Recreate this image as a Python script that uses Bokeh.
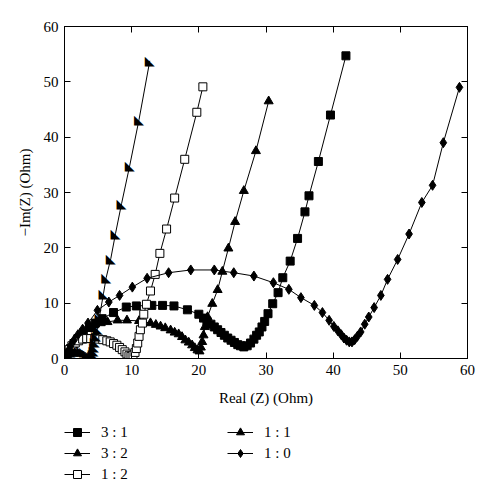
import math
from bokeh.plotting import figure
from bokeh.layouts import column
from bokeh.models import Legend, LegendItem, LinearAxis, Range1d, FixedTicker, ColumnDataSource
from bokeh.core.properties import value
from bokeh.embed import file_html
from bokeh.resources import INLINE

# ---- data ----
x_31 = [0.2, 0.5, 0.9, 1.4, 2.0, 2.8, 3.7, 4.6, 5.6, 7.3, 9.2, 10.7, 13.0, 14.6, 16.3, 18.3, 20.0,
        20.7, 21.2, 21.8, 22.3, 22.8, 23.3, 23.8, 24.3, 24.8, 25.3, 25.8, 26.2, 26.7, 27.2, 27.7,
        28.2, 28.6, 29.0, 29.4, 29.8, 30.3, 31.0, 31.8, 32.5, 33.6, 34.7, 35.8, 36.4, 37.8, 39.6, 41.9]
y_31 = [0.3, 1.0, 1.8, 2.7, 3.6, 4.6, 5.6, 6.4, 7.2, 8.3, 9.3, 9.5, 9.6, 9.6, 9.5, 8.8, 8.0,
        7.3, 6.7, 6.2, 5.7, 5.2, 4.7, 4.2, 3.7, 3.3, 2.9, 2.5, 2.3, 2.1, 2.3, 2.8,
        3.5, 4.2, 4.8, 5.7, 6.7, 8.1, 9.9, 11.9, 14.6, 17.6, 21.7, 26.5, 29.4, 35.6, 44.0, 54.7]

x_32 = [0.2, 0.5, 0.9, 1.4, 2.0, 2.7, 3.5, 4.4, 5.4, 6.4, 7.9, 9.3, 11.1, 12.8, 13.6, 14.3, 15.0,
        15.8, 16.4, 17.0, 17.5, 18.0, 18.5, 19.0, 19.4, 19.8, 20.1, 20.3, 20.5, 20.7, 20.9, 21.3,
        22.0, 22.8, 23.5, 24.4, 25.4, 26.7, 28.5, 30.4]
y_32 = [0.4, 1.2, 2.1, 3.0, 3.9, 4.7, 5.4, 6.0, 6.4, 6.6, 6.9, 6.9, 6.8, 6.4, 6.1, 5.8, 5.5,
        5.1, 4.7, 4.4, 3.9, 3.3, 2.9, 2.4, 1.9, 1.5, 1.3, 2.0, 3.0, 4.2, 5.7, 7.5,
        9.9, 12.4, 15.7, 19.9, 24.7, 30.3, 37.5, 46.5]

x_12 = [0.2, 0.4, 0.7, 1.1, 1.6, 2.1, 2.7, 3.3, 3.9, 4.5, 5.1, 5.7, 6.3, 6.8, 7.3, 7.8, 8.2, 8.6,
        9.0, 9.3, 9.6, 9.9, 10.2, 10.5, 10.7, 10.9, 11.1, 11.3, 11.6, 11.8, 12.2, 12.8, 13.5, 14.2,
        15.2, 16.4, 17.9, 19.7, 20.6]
y_12 = [0.3, 0.9, 1.6, 2.3, 2.8, 3.2, 3.5, 3.6, 3.6, 3.6, 3.5, 3.4, 3.2, 3.0, 2.7, 2.4, 2.0, 1.6,
        1.2, 0.8, 0.5, 0.4, 0.6, 1.1, 1.8, 2.8, 4.0, 5.2, 6.4, 8.0, 9.8, 12.2, 15.2, 19.0,
        23.4, 29.0, 36.0, 44.5, 49.1]

x_11 = [0.1, 0.3, 0.6, 0.9, 1.3, 1.7, 2.1, 2.5, 2.9, 3.3, 3.6, 3.9, 4.1, 4.2, 4.3, 4.4, 4.5, 4.7,
        4.9, 5.2, 5.8, 6.2, 6.9, 7.6, 8.5, 9.7, 11.1, 12.7]
y_11 = [0.1, 0.5, 0.9, 1.2, 1.4, 1.5, 1.5, 1.4, 1.2, 0.9, 0.6, 0.4, 0.5, 0.9, 1.5, 2.2, 3.0, 4.2,
        5.5, 7.5, 11.7, 14.6, 18.1, 22.6, 28.0, 34.8, 43.2, 53.8]

x_10 = [0.2, 0.5, 0.9, 1.4, 2.0, 2.7, 3.5, 4.9, 6.6, 8.2, 10.1, 12.3, 15.5, 18.8, 22.3, 25.2, 28.2,
        31.1, 33.4, 35.2, 37.2, 38.4, 39.4, 40.1, 40.7, 41.2, 41.6, 42.0, 42.4, 42.8, 43.2, 43.6,
        44.1, 44.7, 45.3, 46.1, 47.1, 48.1, 49.6, 51.3, 53.2, 54.8, 56.4, 58.8]
y_10 = [0.4, 1.3, 2.3, 3.3, 4.3, 5.3, 6.4, 8.7, 10.2, 11.4, 12.9, 14.5, 15.5, 16.0, 16.0, 15.5, 14.9,
        13.7, 12.5, 11.0, 9.6, 8.3, 6.9, 5.8, 5.0, 4.3, 3.7, 3.3, 3.0, 3.0, 3.4, 4.0,
        4.8, 6.2, 7.5, 9.2, 11.4, 14.3, 17.9, 22.5, 28.2, 31.3, 39.0, 49.0]

labels = ["3 : 1", "3 : 2", "1 : 2", "1 : 1", "1 : 0"]
ticks = [0, 10, 20, 30, 40, 50, 60]

FONT = "Liberation Serif"

p = figure(width=483, height=410, x_range=Range1d(0, 60), y_range=Range1d(0, 60),
           output_backend="svg", toolbar_location=None,
           min_border_left=64, min_border_right=16, min_border_top=26, min_border_bottom=52)
p.grid.visible = False
p.background_fill_color = "white"
p.outline_line_color = "black"
p.outline_line_width = 1

def style_axis(ax, show_labels=True):
    ax.ticker = FixedTicker(ticks=ticks)
    ax.major_tick_in = 6
    ax.major_tick_out = 0
    ax.minor_tick_line_color = None
    ax.axis_line_color = "black"
    ax.major_tick_line_color = "black"
    ax.major_label_text_font = FONT
    if show_labels:
        ax.major_label_text_font_size = "15px"
        ax.major_label_text_color = "black"
    else:
        ax.major_label_text_font_size = "1px"
        ax.major_label_text_color = None
    ax.axis_label_text_font = FONT
    ax.axis_label_text_font_size = "15px"
    ax.axis_label_text_font_style = "normal"
    ax.axis_label_text_color = "black"

style_axis(p.xaxis[0])
style_axis(p.yaxis[0])
p.xaxis[0].axis_label = "Real (Z) (Ohm)"
p.yaxis[0].axis_label = "\u2212Im(Z) (Ohm)"
p.xaxis[0].major_label_standoff = 6
p.xaxis[0].axis_label_standoff = 12
p.yaxis[0].major_label_standoff = 6
p.yaxis[0].axis_label_standoff = 8

ax_top = LinearAxis()
ax_right = LinearAxis()
style_axis(ax_top, False)
style_axis(ax_right, False)
ax_top.major_label_standoff = 0
ax_right.major_label_standoff = 0
p.add_layout(ax_top, "above")
p.add_layout(ax_right, "right")

# series styles
sq_kw = dict(marker="square", size=8, fill_color="black", line_color="black")
tri_kw = dict(marker="triangle", size=9, fill_color="black", line_color="black")
osq_kw = dict(marker="square", size=8, fill_color="white", line_color="black", line_width=1)
dia_kw = dict(marker="diamond", size=10, fill_color="black", line_color="black")
flag_kw = dict(marker="triangle", size=9, angle=-math.pi / 2 - 0.3, fill_color="black", line_color="black")

s31 = ColumnDataSource(dict(x=x_31, y=y_31))
p.line("x", "y", source=s31, line_color="black", line_width=1)
p.scatter("x", "y", source=s31, **sq_kw)

s32 = ColumnDataSource(dict(x=x_32, y=y_32))
p.line("x", "y", source=s32, line_color="black", line_width=1)
p.scatter("x", "y", source=s32, **tri_kw)

s12 = ColumnDataSource(dict(x=x_12, y=y_12))
p.line("x", "y", source=s12, line_color="black", line_width=1)
p.scatter("x", "y", source=s12, **osq_kw)

s11 = ColumnDataSource(dict(x=x_11, y=y_11, t=["\u25E3"] * len(x_11)))
p.line("x", "y", source=s11, line_color="black", line_width=1)
p.text("x", "y", text="t", source=s11, text_font=value("DejaVu Sans"), text_font_size="13px",
       text_align="center", text_baseline="middle", text_color="black")

s10 = ColumnDataSource(dict(x=x_10, y=y_10))
p.line("x", "y", source=s10, line_color="black", line_width=1)
p.scatter("x", "y", source=s10, **dia_kw)

# ---- legend panel (separate figure under the chart; its view range holds no data,
#      so the series only feed the legend swatches) ----
lg = figure(width=483, height=82, x_range=Range1d(-2, -1), y_range=Range1d(-2, -1),
            output_backend="svg", toolbar_location=None, x_axis_type=None, y_axis_type=None,
            min_border_left=0, min_border_right=0, min_border_top=0, min_border_bottom=0)
lg.grid.visible = False
lg.outline_line_color = None

items = []
for lab, src, kw in zip(labels, [s31, s32, s12, s11, s10], [sq_kw, tri_kw, osq_kw, flag_kw, dia_kw]):
    r_line = lg.line("x", "y", source=src, line_color="black", line_width=1)
    r_mark = lg.scatter("x", "y", source=src, **kw)
    items.append(LegendItem(label=lab, renderers=[r_line, r_mark]))

legend = Legend(items=items, location=(0, 8), orientation="vertical", nrows=3,
                glyph_width=26, glyph_height=20, label_height=20, label_width=125,
                label_standoff=11, spacing=1, padding=1, margin=0,
                label_text_font=FONT, label_text_font_size="15px", label_text_color="black",
                border_line_color=None, background_fill_alpha=0)
lg.add_layout(legend, "center")

layout = column(p, lg, spacing=0)
open("out.html", "w").write(file_html(layout, INLINE))
